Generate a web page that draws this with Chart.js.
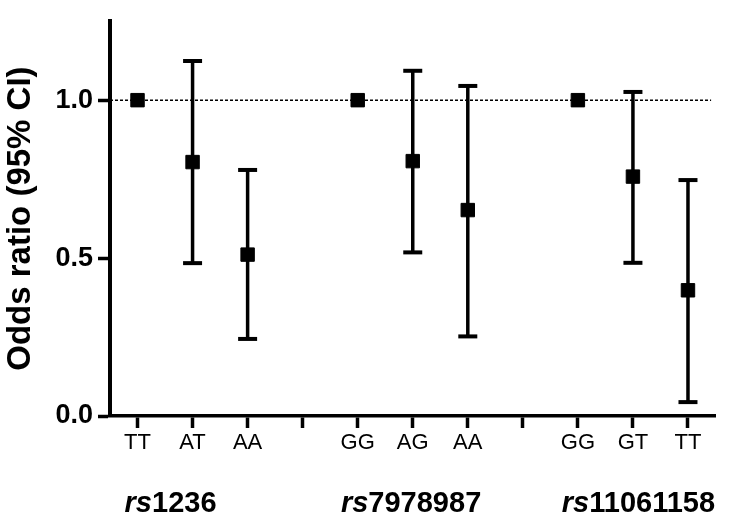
<!DOCTYPE html>
<html>
<head>
<meta charset="utf-8">
<script src="https://cdn.jsdelivr.net/npm/chart.js@4/dist/chart.umd.min.js"></script>
<style>
  body { margin: 0; background: #fff; }
</style>
</head>
<body>
<canvas id="orChart" width="729" height="523"></canvas>
<script>
// genotype slots along the x axis, '' = gap between SNPs
const genotypes = ['TT', 'AT', 'AA', '', 'GG', 'AG', 'AA', '', 'GG', 'GT', 'TT'];
const oddsRatio = [1.0, 0.804, 0.511, null, 1.0, 0.807, 0.652, null, 1.0, 0.758, 0.398];
const ciLower   = [null, 0.484, 0.244, null, null, 0.518, 0.252, null, null, 0.485, 0.044];
const ciUpper   = [null, 1.124, 0.779, null, null, 1.093, 1.045, null, null, 1.026, 0.747];
const snps = ['rs1236', 'rs7978987', 'rs11061158'];
const yTicks = [0, 0.5, 1.0];
const refLine = 1.0;

const FONT = "'Liberation Sans', Arial, sans-serif";

let points = [];
let bars = [];
for (let i = 0; i < genotypes.length; i++) {
  if (oddsRatio[i] !== null) points.push({ x: i, y: oddsRatio[i] });
  if (ciLower[i] !== null) {
    bars.push({ x: i, y: ciLower[i] });
    bars.push({ x: i, y: ciUpper[i] });
    bars.push({ x: i, y: null });
  }
}

// snp names under the genotypes, "rs" in italics
const snpLabels = {
  id: 'snpLabels',
  afterDraw(chart) {
    const ctx = chart.ctx;
    const xs = chart.scales.x;
    const at = [0.6, 4.97, 9.1];
    ctx.save();
    ctx.fillStyle = '#000';
    ctx.textBaseline = 'alphabetic';
    ctx.textAlign = 'left';
    for (let i = 0; i < snps.length; i++) {
      const pre = snps[i].substring(0, 2);
      const num = snps[i].substring(2);
      ctx.font = 'italic bold 29px ' + FONT;
      const w1 = ctx.measureText(pre).width;
      ctx.font = 'bold 29px ' + FONT;
      const w2 = ctx.measureText(num).width;
      let x = xs.getPixelForValue(at[i]) - (w1 + w2) / 2;
      ctx.font = 'italic bold 29px ' + FONT;
      ctx.fillText(pre, x, 512);
      ctx.font = 'bold 29px ' + FONT;
      ctx.fillText(num, x + w1, 512);
    }
    ctx.restore();
  }
};

new Chart(document.getElementById('orChart'), {
  type: 'scatter',
  data: {
    datasets: [
      {
        label: 'OR',
        data: points,
        pointStyle: 'rect',
        pointRadius: 9.5,
        pointBackgroundColor: '#000',
        pointBorderColor: '#000',
        pointBorderWidth: 1,
        showLine: false
      },
      {
        label: '95% CI',
        data: bars,
        showLine: true,
        spanGaps: false,
        borderColor: '#000',
        borderWidth: 3.5,
        pointStyle: 'line',
        pointRadius: 9.5,
        pointBorderWidth: 4,
        pointBorderColor: '#000',
        clip: false
      },
      {
        label: 'ref',
        data: [{ x: -0.5, y: refLine }, { x: 10.42, y: refLine }],
        showLine: true,
        borderColor: '#000',
        borderWidth: 1.5,
        borderDash: [3, 2],
        pointRadius: 0
      }
    ]
  },
  options: {
    responsive: false,
    animation: false,
    layout: { padding: { top: 10, right: 12, left: 0, bottom: 0 } },
    plugins: {
      legend: { display: false },
      tooltip: { enabled: false }
    },
    scales: {
      x: {
        type: 'linear',
        min: -0.5,
        max: 10.5,
        afterBuildTicks: (s) => { s.ticks = genotypes.map((g, i) => ({ value: i })); },
        afterFit: (s) => { s.height = 107; },
        grid: { drawOnChartArea: false, tickLength: 12, tickWidth: 3.5, tickColor: '#000' },
        border: { display: true, color: '#000', width: 3.5 },
        ticks: {
          autoSkip: false,
          maxRotation: 0,
          padding: 2,
          color: '#000',
          font: { family: FONT, size: 22 },
          callback: (v) => genotypes[v]
        }
      },
      y: {
        min: 0,
        max: 1.25,
        afterBuildTicks: (s) => { s.ticks = yTicks.map(v => ({ value: v })); },
        afterFit: (s) => { s.width = 110; },
        grid: { drawOnChartArea: false, tickLength: 12, tickWidth: 3.5, tickColor: '#000' },
        border: { display: true, color: '#000', width: 4 },
        ticks: {
          padding: 5,
          color: '#000',
          font: { family: FONT, size: 27, weight: 'bold' },
          callback: (v) => v.toFixed(1)
        },
        title: {
          display: true,
          text: 'Odds ratio (95% CI)',
          color: '#000',
          font: { family: FONT, size: 33, weight: 'bold' },
          padding: { top: 1, bottom: 0 }
        }
      }
    }
  },
  plugins: [snpLabels]
});
</script>
</body>
</html>
